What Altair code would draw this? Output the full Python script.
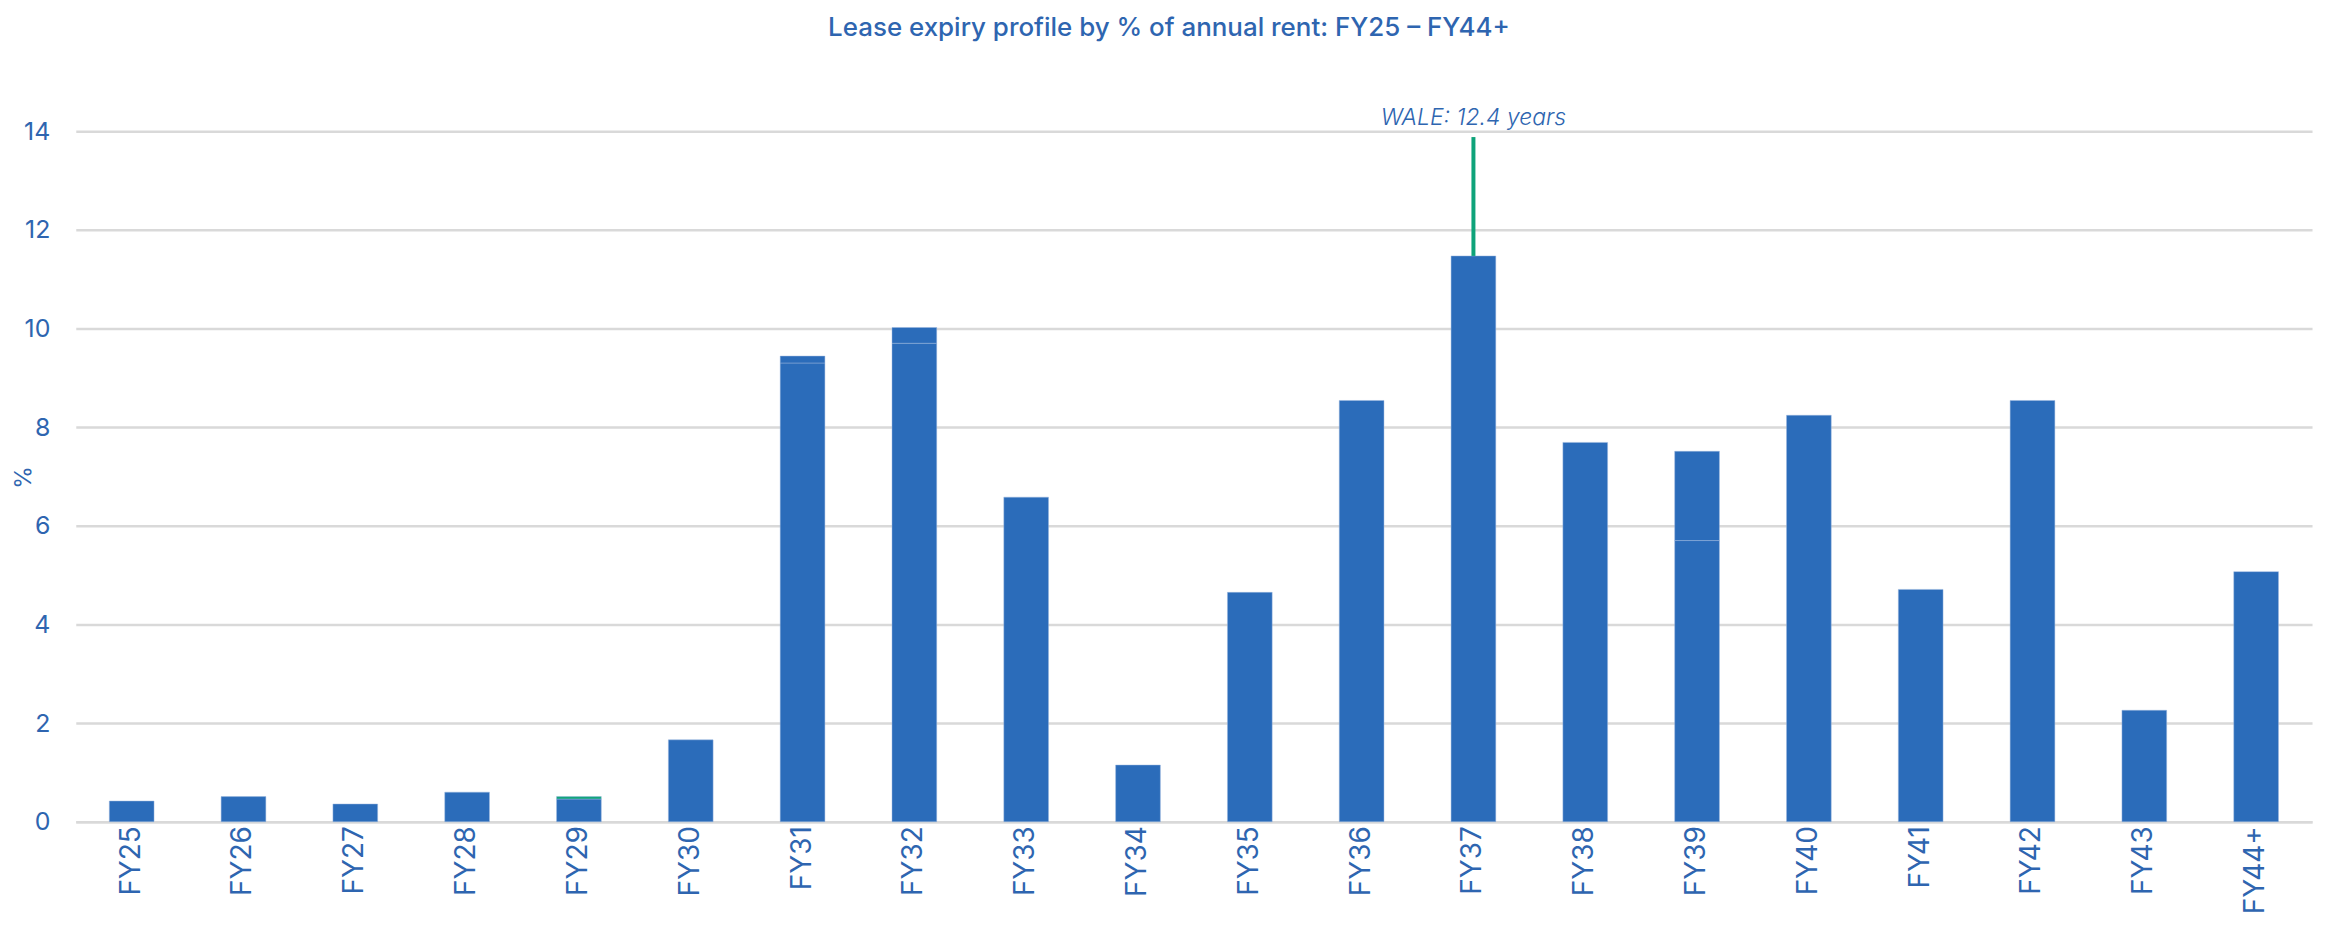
import altair as alt
import pandas as pd

categories = ["FY25", "FY26", "FY27", "FY28", "FY29", "FY30", "FY31", "FY32", "FY33", "FY34",
              "FY35", "FY36", "FY37", "FY38", "FY39", "FY40", "FY41", "FY42", "FY43", "FY44+"]
seg_main = [0.42, 0.51, 0.36, 0.60, 0.46, 1.66, 9.30, 9.70, 6.58, 1.15,
            4.65, 8.54, 11.47, 7.69, 5.70, 8.24, 4.71, 8.54, 2.26, 5.07]
seg_upper = [0, 0, 0, 0, 0, 0, 0.14, 0.32, 0, 0,
             0, 0, 0, 0, 1.81, 0, 0, 0, 0, 0]
seg_green = [0, 0, 0, 0, 0.05, 0, 0, 0, 0, 0,
             0, 0, 0, 0, 0, 0, 0, 0, 0, 0]
segment_names = ["main", "upper", "green"]
segment_colors = ["#2B6CBA", "#2B6CBA", "#0EA37A"]

wale_label = "WALE: 12.4 years"
wale_cat = "FY37"
wale_from = 11.47
wale_to = 13.88

rows = []
for i, c in enumerate(categories):
    for name, vals, order in ((segment_names[0], seg_main, 0), (segment_names[1], seg_upper, 1), (segment_names[2], seg_green, 2)):
        if vals[i] > 0:
            rows.append({"cat": c, "segment": name, "value": vals[i], "ord": order})
df = pd.DataFrame(rows)
wale_df = pd.DataFrame([{"cat": wale_cat, "y": wale_from, "y2": wale_to, "label": wale_label, "ty": 14}])

TXT = "#2E65B0"
GRID = "#D9D9D9"
FONT = "Inter"

x_enc = alt.X("cat:N", sort=categories,
              scale=alt.Scale(paddingInner=0.6, paddingOuter=0.3),
              axis=alt.Axis(title=None, labelAngle=-90, labelAlign="right", labelBaseline="middle",
                            labelPadding=4, ticks=False, labelFontSize=28, labelColor=TXT,
                            labelFont=FONT, domainColor=GRID, domainWidth=2.5, grid=False))

bars = alt.Chart(df).mark_bar(stroke="#9DB8E0", strokeWidth=0.8, strokeOpacity=0.6).encode(
    x=x_enc,
    y=alt.Y("value:Q", stack="zero",
            scale=alt.Scale(domain=[0, 14], nice=False),
            axis=alt.Axis(values=[0, 2, 4, 6, 8, 10, 12, 14], title="%", titleFontSize=23,
                          titleFontWeight="normal", titleColor=TXT, titleFont=FONT,
                          titleX=-52, titleY=347, titleAngle=-90, titleBaseline="middle",
                          titleAlign="center",
                          labelFontSize=25, labelColor=TXT, labelFont=FONT, labelPadding=26,
                          ticks=False, domain=False, gridColor=GRID, gridWidth=2.5)),
    color=alt.Color("segment:N", scale=alt.Scale(domain=segment_names, range=segment_colors), legend=None),
    order=alt.Order("ord:Q"),
)

rule = alt.Chart(wale_df).mark_rule(color="#0EA37A", strokeWidth=4).encode(
    x=alt.X("cat:N", sort=categories),
    y="y:Q",
    y2="y2:Q",
)

label = alt.Chart(wale_df).mark_text(fontStyle="italic", fontWeight=300, fontSize=23, color=TXT,
                                      font=FONT, dy=-1, baseline="bottom").encode(
    x=alt.X("cat:N", sort=categories),
    y="ty:Q",
    text="label:N",
)

chart = alt.layer(bars, rule, label).properties(
    width=2244, height=693,
    title=alt.TitleParams("Lease expiry profile by % of annual rent: FY25 – FY44+", fontSize=26,
                          fontWeight=500, color=TXT, font=FONT, anchor="middle", offset=66, dx=-25),
    autosize=alt.AutoSizeParams(type="none"),
    padding={"left": 68, "top": 122, "right": 10, "bottom": 90},
).configure_view(stroke=None).configure_axis(gridColor=GRID)

chart.save("out.html", embed_options={"renderer": "svg", "actions": False})
